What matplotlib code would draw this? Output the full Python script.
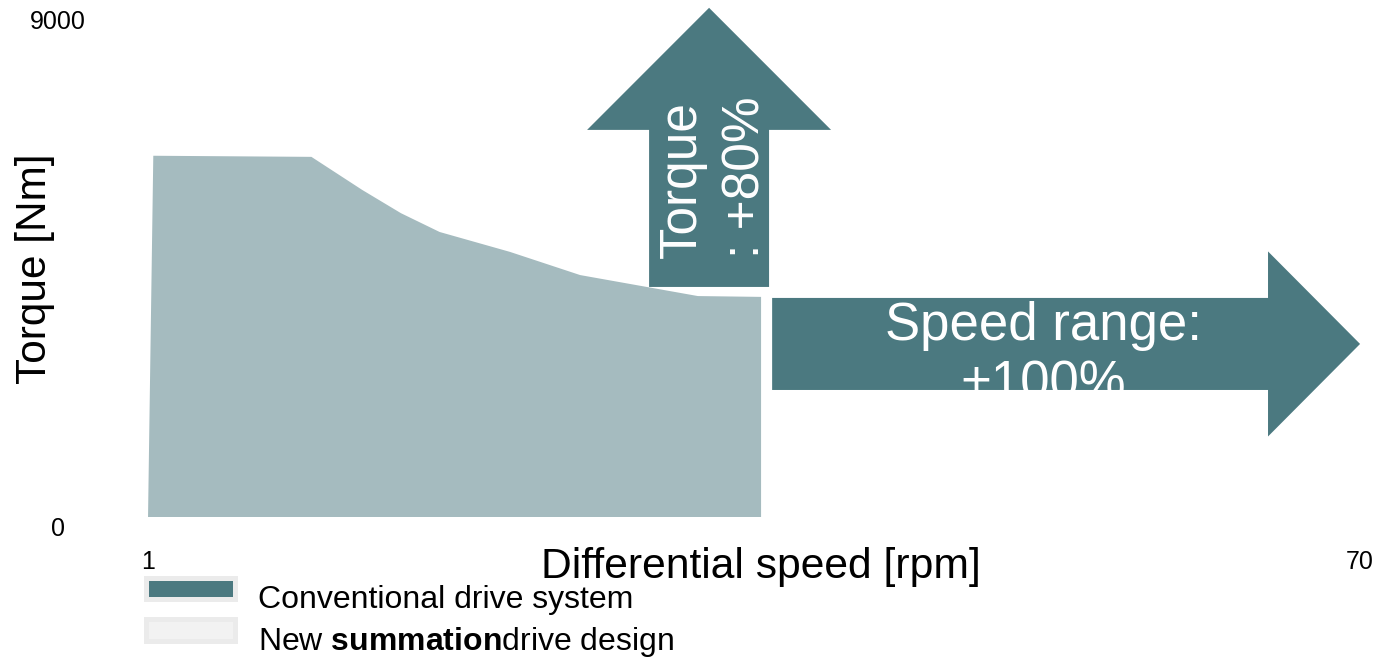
import matplotlib.pyplot as plt
from matplotlib.patches import Patch, Rectangle
from matplotlib.legend_handler import HandlerPatch

plt.rcParams['font.family'] = ['Liberation Sans', 'DejaVu Sans']
plt.rcParams['mathtext.fontset'] = 'custom'
plt.rcParams['mathtext.rm'] = 'Liberation Sans'
plt.rcParams['mathtext.bf'] = 'Liberation Sans:bold'

# torque curve of the conventional drive (outline of the filled area)
speed = [1.0, 1.3, 10.3, 13.2, 15.4, 17.6, 21.6, 25.6, 32.3, 35.9, 35.9]
torque = [0, 6540, 6520, 5920, 5500, 5160, 4800, 4380, 4000, 3985, 0]

x_ticks = [1, 70]
y_ticks = [0, 9000]

legend_labels = ['Conventional drive system', r'New $\bf{summation}$drive design']

dark = '#4b7980'
light = '#a5bbbf'

fig = plt.figure(figsize=(13.77, 6.62), dpi=100)
ax = fig.add_axes([0.1075, 0.219, 0.8802, 0.751])

ax.fill(speed, torque, color=light, lw=0)

# up arrow: torque gain
up = ax.arrow(32.94, 4165, 0, 5053, width=6.83, head_width=13.89,
              head_length=2210, length_includes_head=True,
              color=dark, lw=0, clip_on=False)
ax.text(33.23, 6157, 'Torque\n: +80%', rotation=90, ha='center', va='center',
        multialignment='left', linespacing=1.4, fontsize=37, color='white')

# right arrow: speed range gain, label cut off by the arrow outline
right = ax.arrow(36.53, 3133, 33.47, 0, width=1666, head_width=3350,
                 head_length=5.24, length_includes_head=True,
                 color=dark, lw=0, clip_on=False)
t = ax.text(51.95, 2150, 'Speed range:\n+100%', ha='center', va='baseline',
            fontsize=38, color='white', linespacing=1.2)
t.set_clip_path(right)

ax.set_xlim(1, 70)
ax.set_ylim(0, 9000)
ax.set_xticks(x_ticks)
ax.set_yticks(y_ticks)
ax.tick_params(axis='x', length=0, pad=24, labelsize=18)
ax.tick_params(axis='y', length=0, pad=65, labelsize=18)
for lab in ax.get_yticklabels():
    lab.set_horizontalalignment('center')
ax.get_yticklabels()[0].set_verticalalignment('top')
for s in ax.spines.values():
    s.set_visible(False)

ax.set_xlabel('Differential speed [rpm]', fontsize=30.7)
ax.xaxis.set_label_coords(0.506, -0.061)
ax.set_ylabel('Torque [Nm]', fontsize=30.5)
ax.yaxis.set_label_coords(-0.077, 0.5)


def raised_box(legend, orig_handle, xdescent, ydescent, width, height, fontsize):
    # legend swatch sits a little above the text centre
    return Rectangle((-xdescent + 2, -ydescent + 6), width, height)


handles = [Patch(facecolor=dark, edgecolor='#ebebeb', linewidth=3.6, joinstyle='round'),
           Patch(facecolor='#f2f2f2', edgecolor='#ebebeb', linewidth=3.6, joinstyle='round')]
fig.legend(handles, legend_labels, loc='upper left', bbox_to_anchor=(0.1038, 0.116),
           frameon=False, fontsize=23, borderpad=0, borderaxespad=0,
           handlelength=2.8, handleheight=0.66, handletextpad=0.8,
           labelspacing=0.3,
           handler_map={Patch: HandlerPatch(patch_func=raised_box)})

fig.savefig('out.png', dpi=100)
